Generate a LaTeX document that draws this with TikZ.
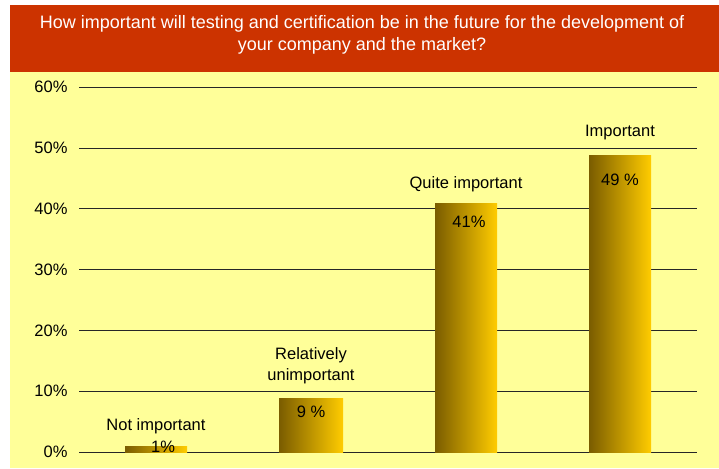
\documentclass[tikz,border=0pt]{standalone}
\usepackage{fontspec}
\setmainfont{Liberation Sans}
\usepackage{xcolor}
\usetikzlibrary{positioning}
\definecolor{titlered}{RGB}{204,51,0}
\definecolor{paleyellow}{RGB}{255,255,153}
\definecolor{bardark}{RGB}{122,92,0}
\definecolor{bargold}{RGB}{255,204,0}
\tikzset{
  bar/.style={left color=bardark,right color=bargold,shading angle=90},
  grid line/.style={line width=0.8pt,black!85},
  ylabel/.style={anchor=east,font=\fontsize{16.5}{18}\selectfont},
  catlabel/.style={align=center,font=\fontsize{16.5}{21}\selectfont},
  vallabel/.style={font=\fontsize{16.5}{18}\selectfont}
}
\begin{document}
\begin{tikzpicture}[x=1pt,y=-1pt]
		\useasboundingbox (0,0) rectangle (719,468);
		\fill[paleyellow] (10,72) rectangle (719,468);
		\fill[titlered] (10,5) rectangle (719,72);
		\node[white,align=center,font=\fontsize{18}{22}\selectfont] (title) at (362,35)
			{How important will testing and certification be in the future for the development of\\your company and the market?};
		% grid and axis labels
		\draw[grid line] (79,452) -- (697,452);
		\node[ylabel] (tick0) at (71,452) {0\%};
		\foreach \p in {1,...,6}{
			\draw[grid line] (79,452-60.8*\p) -- (697,452-60.8*\p);
			\node[ylabel] (tick\p) at (71,452-60.8*\p) {\p0\%};
		}
		% bars
		\shade[bar] (125,446) rectangle (187,452);
		\shade[bar] (279,398) rectangle (343,452);
		\shade[bar] (435,203) rectangle (497,452);
		\shade[bar] (589,155) rectangle (651,452);
		\node[catlabel] (notimp) at (156,426) {Not important};
		\node[vallabel] (v1) at (163,447) {1\%};
		\node[catlabel] (relunimp) at (311,366) {Relatively\\unimportant};
		\node[vallabel] (v9) at (311,412) {9 \%};
		\node[catlabel] (quiteimp) at (466,184) {Quite important};
		\node[vallabel] (v41) at (469,222) {41\%};
		\node[catlabel] (imp) at (620,133) {Important};
		\node[vallabel] (v49) at (620,180) {49 \%};
	\end{tikzpicture}
\end{document}
